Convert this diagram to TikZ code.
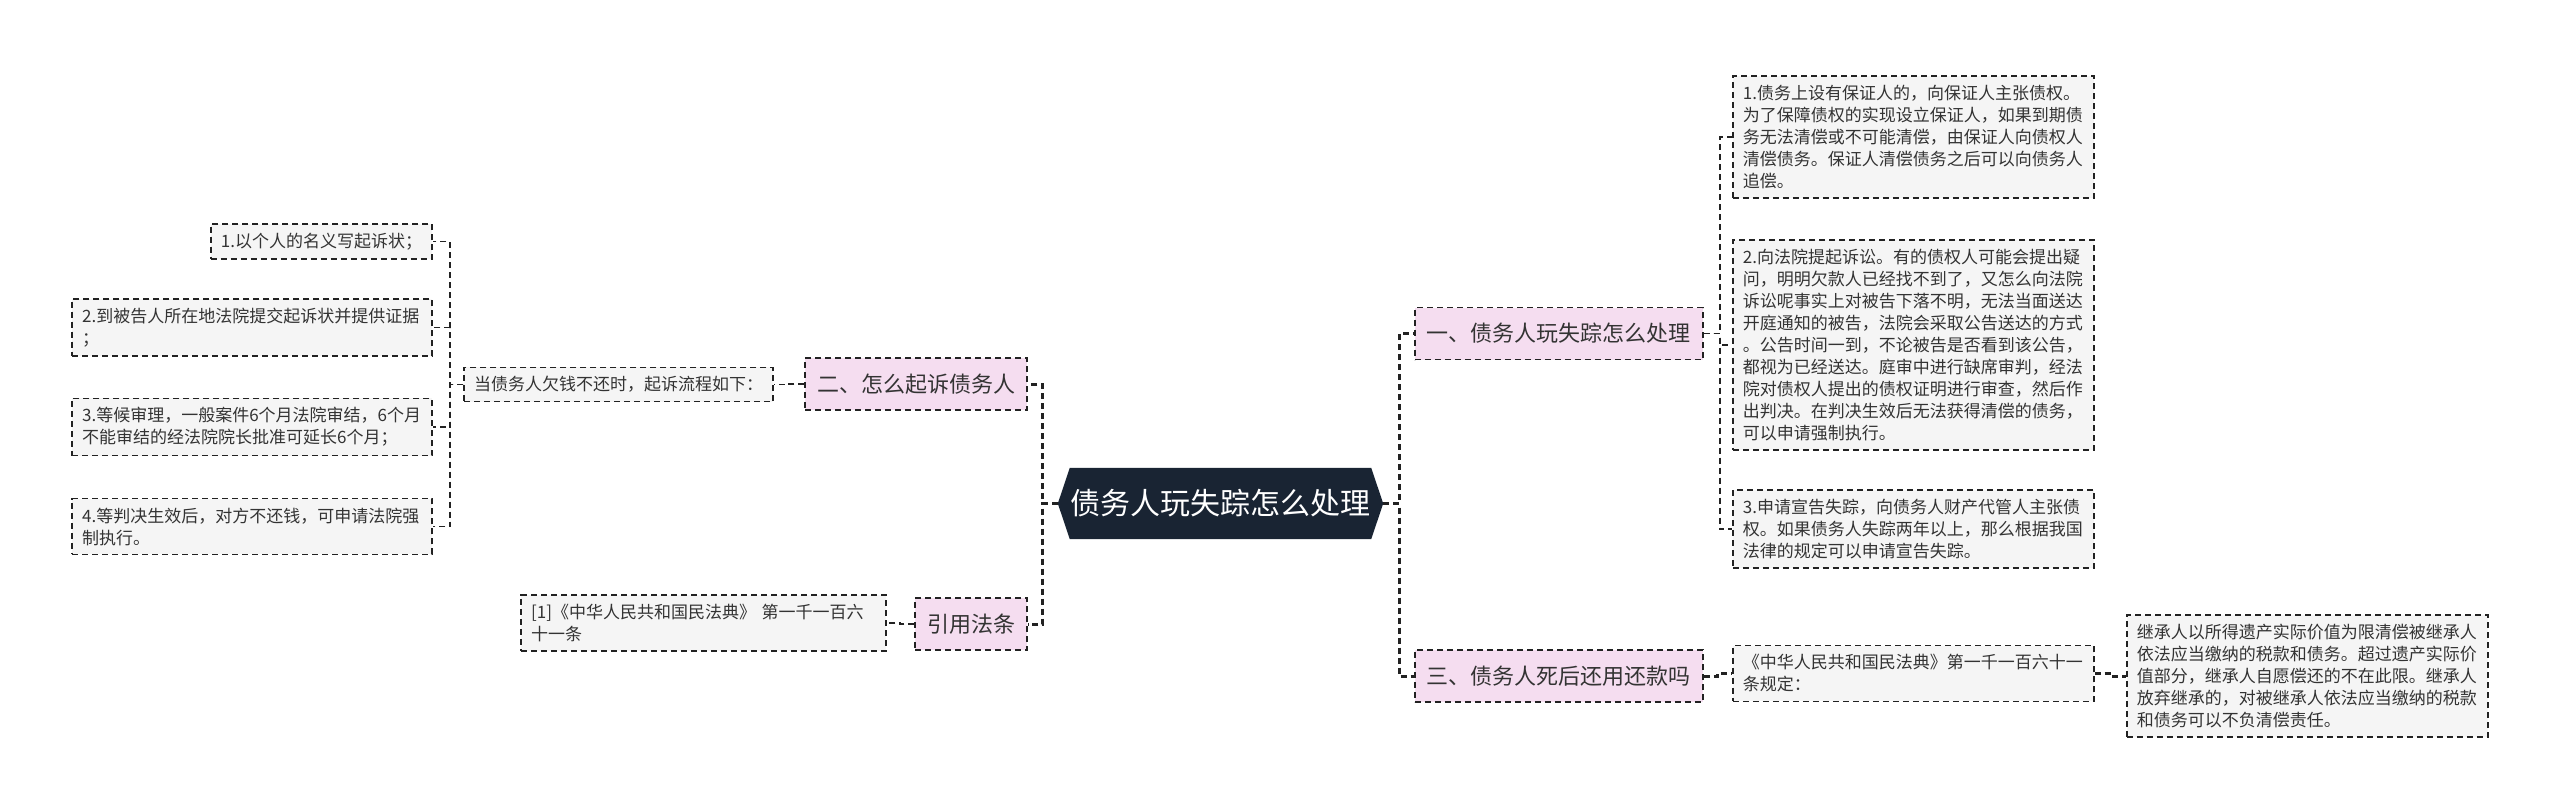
\documentclass[tikz,border=0pt]{standalone}
\usepackage{fontspec}
\setmainfont{Noto Sans CJK SC}
\usetikzlibrary{backgrounds}
\definecolor{navy}{RGB}{25,36,51}
\definecolor{pinkfill}{RGB}{245,221,240}
\definecolor{leaffill}{RGB}{245,245,245}
\definecolor{linecol}{RGB}{34,34,34}
\definecolor{txt}{RGB}{51,51,51}
\begin{document}
\begin{tikzpicture}[x=1pt,y=-1pt,
  dashline/.style={draw=linecol, line width=1.7pt, dash pattern=on 6pt off 4pt},
  leaf/.style={dashline, fill=leaffill, text=txt, align=left, inner xsep=10pt, inner ysep=9pt, font=\fontsize{17pt}{22pt}\selectfont},
  leafw/.style={leaf, text width=341pt},
  topic/.style={dashline, fill=pinkfill, text=txt, inner xsep=12pt, inner ysep=0pt, minimum height=52pt, font=\fontsize{22pt}{26pt}\selectfont},
  conn/.style={dashline},
  mainconn/.style={dashline, line width=3pt},
  centre/.style={text=white, font=\fontsize{30pt}{36pt}\selectfont, minimum width=325pt, minimum height=71pt, inner sep=0pt}
  ]
\useasboundingbox (0,0) rectangle (2560,811);

\node[centre] (c) at (1220.5,503.5) {债务人玩失踪怎么处理};
\begin{scope}[on background layer]
\fill[navy] (c.west) -- ([xshift=12pt]c.north west) -- ([xshift=-12pt]c.north east) -- (c.east) -- ([xshift=-12pt]c.south east) -- ([xshift=12pt]c.south west) -- cycle;
\end{scope}

\node[topic, anchor=west] (n1) at (1414,333.5) {一、债务人玩失踪怎么处理};
\node[topic, anchor=west] (n3) at (1414,676) {三、债务人死后还用还款吗};
\node[topic, anchor=east] (n2) at (1028,384) {二、怎么起诉债务人};
\node[topic, anchor=east] (n4) at (1028,624) {引用法条};

\node[leafw, anchor=west] (r1) at (1732,137) {1.债务上设有保证人的，向保证人主张债权。\\为了保障债权的实现设立保证人，如果到期债\\务无法清偿或不可能清偿，由保证人向债权人\\清偿债务。保证人清偿债务之后可以向债务人\\追偿。};
\node[leafw, anchor=west] (r2) at (1732,345) {2.向法院提起诉讼。有的债权人可能会提出疑\\问，明明欠款人已经找不到了，又怎么向法院\\诉讼呢事实上对被告下落不明，无法当面送达\\开庭通知的被告，法院会采取公告送达的方式\\。公告时间一到，不论被告是否看到该公告，\\都视为已经送达。庭审中进行缺席审判，经法\\院对债权人提出的债权证明进行审查，然后作\\出判决。在判决生效后无法获得清偿的债务，\\可以申请强制执行。};
\node[leafw, anchor=west] (r3) at (1732,529) {3.申请宣告失踪，向债务人财产代管人主张债\\权。如果债务人失踪两年以上，那么根据我国\\法律的规定可以申请宣告失踪。};
\node[leafw, anchor=west] (law) at (1732,673.5) {《中华人民共和国民法典》第一千一百六十一\\条规定：};
\node[leafw, anchor=west] (heir) at (2126,676) {继承人以所得遗产实际价值为限清偿被继承人\\依法应当缴纳的税款和债务。超过遗产实际价\\值部分，继承人自愿偿还的不在此限。继承人\\放弃继承的，对被继承人依法应当缴纳的税款\\和债务可以不负清偿责任。};

\node[leaf, anchor=east] (q) at (774,384.5) {当债务人欠钱不还时，起诉流程如下：};
\node[leaf, anchor=east] (l1) at (433,241.5) {1.以个人的名义写起诉状；};
\node[leaf, anchor=east, text width=340pt] (l2) at (433,327.5) {2.到被告人所在地法院提交起诉状并提供证据\\；};
\node[leaf, anchor=east, text width=340pt] (l3) at (433,427) {3.等候审理，一般案件6个月法院审结，6个月\\不能审结的经法院院长批准可延长6个月；};
\node[leaf, anchor=east, text width=340pt] (l4) at (433,526.5) {4.等判决生效后，对方不还钱，可申请法院强\\制执行。};
\node[leaf, anchor=east, text width=345pt] (ref) at (887,623) {[1]《中华人民共和国民法典》 第一千一百六\\十一条};

\draw[mainconn] (c.east) -- ++(16,0) |- (n1.west);
\draw[mainconn] (c.east) -- ++(16,0) |- (n3.west);
\draw[mainconn] (c.west) -- ++(-15,0) |- (n2.east);
\draw[mainconn] (c.west) -- ++(-15,0) |- (n4.east);

\draw[conn] (n1.east) -- ++(16,0) |- (r1.west);
\draw[conn] (n1.east) -- ++(16,0) |- (r2.west);
\draw[conn] (n1.east) -- ++(16,0) |- (r3.west);
\draw[mainconn] (n3.east) -- ++(14,0) |- (law.west);
\draw[mainconn] (law.east) -- ++(16,0) |- (heir.west);

\draw[conn] (n2.west) -- ++(-16,0) |- (q.east);
\draw[conn] (q.west) -- ++(-13,0) |- (l1.east);
\draw[conn] (q.west) -- ++(-13,0) |- (l2.east);
\draw[conn] (q.west) -- ++(-13,0) |- (l3.east);
\draw[conn] (q.west) -- ++(-13,0) |- (l4.east);
\draw[conn] (n4.west) -- ++(-14,0) |- (ref.east);
\end{tikzpicture}
\end{document}
